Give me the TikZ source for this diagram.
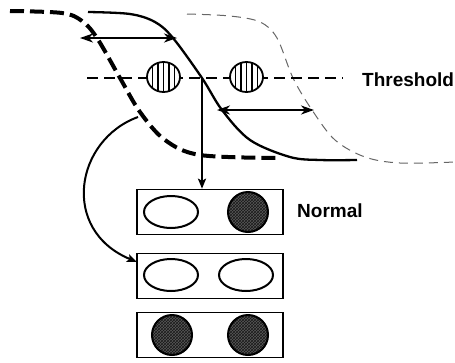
\documentclass[tikz,border=0pt]{standalone}
\usepackage{fontspec}
\setmainfont{Liberation Sans}
\usetikzlibrary{arrows.meta,shapes.geometric,patterns}
\tikzset{
  thickdash/.style={line width=4pt,dash pattern=on 14pt off 6pt},
  thindash/.style={line width=1pt,black!60,dash pattern=on 9pt off 6pt},
  thrline/.style={line width=2.3pt,dash pattern=on 11pt off 6pt},
  solidcurve/.style={line width=2.3pt},
  dbl/.style={line width=2pt,{Stealth[length=13pt,width=9pt,inset=4pt]}-{Stealth[length=13pt,width=9pt,inset=4pt]}},
  onearrow/.style={line width=2pt,-{Stealth[length=10pt,width=8pt,inset=2pt]}},
  hatchcirc/.style={ellipse,draw,line width=1.8pt,fill=white,minimum width=33pt,minimum height=30pt,inner sep=0pt,
    path picture={\foreach \i in {-11,-5.5,0,5.5,11}{\draw[line width=1.1pt] ([xshift=\i pt,yshift=-20pt]path picture bounding box.center) -- ++(0pt,40pt);}}},
  cellbox/.style={rectangle,draw,line width=1.6pt,minimum width=146pt,minimum height=45pt,inner sep=0pt},
  openell/.style={ellipse,draw,line width=2pt,minimum width=54pt,minimum height=32pt,inner sep=0pt},
  fullcirc/.style={circle,draw,line width=2pt,minimum size=40pt,inner sep=0pt,preaction={fill=black!65},pattern=crosshatch,pattern color=black!90},
  lbl/.style={font=\fontsize{19}{21}\selectfont\bfseries,inner sep=0pt,anchor=base west}
}
\begin{document}
\begin{tikzpicture}[x=1pt,y=-1pt]
\useasboundingbox (0,0) rectangle (455,362);
% curves
\draw[thindash] plot[smooth,tension=0.55] coordinates {(187,14) (230,16) (260,22) (277,38) (293,78) (312,110) (335,140) (365,157) (400,163) (455,162)};
\draw[solidcurve] plot[smooth,tension=0.55] coordinates {(88,12) (130,14) (155,22) (173,38) (202,78) (222,110) (250,140) (290,157) (320,160) (357,160)};
\draw[thickdash] plot[smooth,tension=0.55] coordinates {(10,11) (62,13) (82,21) (97,38) (120,78) (140,112) (165,140) (200,155) (278,158)};
% threshold
\coordinate (thrA) at (87,78);
\coordinate (thrB) at (343,78);
\draw[thrline] (thrA) -- (thrB);
\node[hatchcirc] (h1) at (163.5,77) {};
\node[hatchcirc] (h2) at (246.5,77) {};
\node[lbl] (thr) at (362,86) {Threshold};
% double arrows
\coordinate (a1l) at (80,38);
\coordinate (a1r) at (177,38);
\draw[dbl] (a1l) -- (a1r);
\coordinate (a2l) at (217,110);
\coordinate (a2r) at (314,110);
\draw[dbl] (a2l) -- (a2r);
% boxes
\node[cellbox] (b1) at (210,212) {};
\node[cellbox] (b2) at (210,276) {};
\node[cellbox] (b3) at (210,335) {};
\node[openell] (e11) at (171,212) {};
\node[fullcirc] (c12) at (248,212) {};
\node[openell] (e21) at (171,275) {};
\node[openell] (e22) at (246,275) {};
\node[fullcirc] (c31) at (172,335) {};
\node[fullcirc] (c32) at (248,335) {};
\node[lbl] (nrm) at (297,217) {Normal};
% connectors
\coordinate (vt) at (202,78);
\draw[onearrow] (vt) -- (vt |- b1.north);
\coordinate (cs) at (138,117);
\coordinate (ce) at (137,262);
\draw[onearrow] (cs) .. controls (75,140) and (60,230) .. (ce);
\end{tikzpicture}
\end{document}
